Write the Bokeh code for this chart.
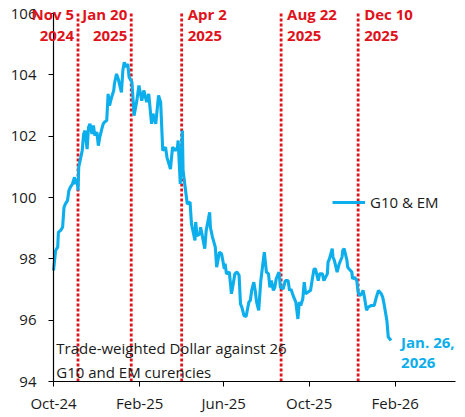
from datetime import datetime, timedelta
from bokeh.plotting import figure
from bokeh.models import (Range1d, FixedTicker, DatetimeTickFormatter, Span, Label,
                          Legend, LegendItem, ColumnDataSource)
from bokeh.embed import file_html
from bokeh.resources import INLINE

# ---------------- data ----------------
dates = [
    "2024-10-01", "2024-10-04", "2024-10-07", "2024-10-08", "2024-10-11", "2024-10-14",
    "2024-10-16", "2024-10-18", "2024-10-21", "2024-10-23", "2024-10-25", "2024-10-28",
    "2024-10-31", "2024-11-01", "2024-11-04", "2024-11-05", "2024-11-06", "2024-11-11",
    "2024-11-13", "2024-11-15", "2024-11-18", "2024-11-20", "2024-11-22", "2024-11-25",
    "2024-11-27", "2024-11-29", "2024-12-02", "2024-12-04", "2024-12-06", "2024-12-09",
    "2024-12-11", "2024-12-13", "2024-12-16", "2024-12-18", "2024-12-20", "2024-12-23",
    "2024-12-26", "2024-12-27", "2024-12-30", "2025-01-02", "2025-01-03", "2025-01-06",
    "2025-01-08", "2025-01-10", "2025-01-13", "2025-01-15", "2025-01-17", "2025-01-21",
    "2025-01-24", "2025-01-28", "2025-01-31", "2025-02-04", "2025-02-07", "2025-02-11",
    "2025-02-14", "2025-02-18", "2025-02-20", "2025-02-24", "2025-02-28", "2025-03-03",
    "2025-03-06", "2025-03-10", "2025-03-12", "2025-03-17", "2025-03-20", "2025-03-24",
    "2025-03-27", "2025-03-28", "2025-03-31", "2025-04-03", "2025-04-04", "2025-04-10",
    "2025-04-14", "2025-04-16", "2025-04-21", "2025-04-22", "2025-04-24", "2025-04-28",
    "2025-04-29", "2025-05-01", "2025-05-05", "2025-05-07", "2025-05-12", "2025-05-13",
    "2025-05-16", "2025-05-20", "2025-05-22", "2025-05-26", "2025-05-29", "2025-06-02",
    "2025-06-03", "2025-06-05", "2025-06-09", "2025-06-11", "2025-06-12", "2025-06-13",
    "2025-06-17", "2025-06-20", "2025-06-23", "2025-06-25", "2025-06-27", "2025-06-30",
    "2025-07-03", "2025-07-07", "2025-07-09", "2025-07-11", "2025-07-14", "2025-07-16",
    "2025-07-18", "2025-07-21", "2025-07-24", "2025-07-29", "2025-08-01", "2025-08-04",
    "2025-08-06", "2025-08-08", "2025-08-11", "2025-08-13", "2025-08-15", "2025-08-19",
    "2025-08-21", "2025-08-25", "2025-08-28", "2025-09-01", "2025-09-03", "2025-09-05",
    "2025-09-09", "2025-09-12", "2025-09-15", "2025-09-17", "2025-09-19", "2025-09-22",
    "2025-09-24", "2025-09-26", "2025-09-29", "2025-10-03", "2025-10-06", "2025-10-08",
    "2025-10-10", "2025-10-14", "2025-10-16", "2025-10-20", "2025-10-22", "2025-10-27",
    "2025-10-28", "2025-10-30", "2025-11-03", "2025-11-04", "2025-11-06", "2025-11-10",
    "2025-11-13", "2025-11-17", "2025-11-18", "2025-11-20", "2025-11-24", "2025-11-25",
    "2025-11-27", "2025-12-01", "2025-12-02", "2025-12-05", "2025-12-08", "2025-12-10",
    "2025-12-12", "2025-12-15", "2025-12-17", "2025-12-19", "2025-12-22", "2025-12-24",
    "2025-12-29", "2026-01-02", "2026-01-05", "2026-01-08", "2026-01-12", "2026-01-14",
    "2026-01-16", "2026-01-20", "2026-01-22", "2026-01-26",
]
g10_em = [
    97.62, 98.27, 98.38, 98.87, 98.92, 99.03,
    99.68, 99.79, 99.90, 100.23, 100.33, 100.44,
    100.66, 100.44, 100.60, 100.23, 100.99, 101.53,
    102.07, 102.18, 101.58, 102.29, 102.40, 102.07,
    102.35, 102.02, 102.13, 101.69, 101.96, 102.24,
    102.40, 102.46, 102.51, 103.38, 103.00, 103.27,
    103.49, 103.71, 104.03, 103.82, 103.71, 103.43,
    104.14, 104.41, 104.25, 104.36, 103.92, 103.76,
    102.67, 103.16, 103.65, 103.16, 103.49, 103.11,
    103.38, 102.40, 102.73, 102.40, 103.33, 103.11,
    101.53, 101.64, 101.31, 100.93, 101.64, 101.53,
    101.64, 101.86, 100.44, 102.18, 100.88, 99.79,
    99.85, 99.14, 98.60, 99.20, 98.76, 98.81,
    99.03, 98.81, 98.33, 98.92, 99.52, 99.03,
    98.71, 98.38, 97.73, 98.22, 98.16, 97.67,
    97.84, 97.51, 97.57, 97.13, 96.86, 96.97,
    97.51, 97.57, 97.46, 96.53, 96.42, 96.15,
    96.12, 96.59, 96.64, 96.97, 97.24, 96.97,
    96.59, 96.32, 97.29, 98.22, 97.57, 97.51,
    97.07, 97.29, 96.97, 97.07, 97.35, 97.57,
    97.07, 97.02, 97.29, 97.29, 96.97, 97.02,
    96.75, 96.59, 96.04, 96.59, 96.48, 96.70,
    97.24, 96.86, 96.91, 96.97, 97.40, 97.67,
    97.67, 97.29, 97.51, 97.51, 97.29, 97.51,
    97.89, 98.00, 98.33, 98.06, 97.95, 97.57,
    97.84, 98.06, 98.27, 98.33, 97.95, 97.73,
    97.67, 97.57, 97.35, 97.40, 97.29, 96.91,
    96.80, 96.86, 96.97, 96.75, 96.32, 96.42,
    96.48, 96.48, 96.75, 96.97, 96.86, 96.75,
    96.53, 95.99, 95.45, 95.34,
]
event_dates = ["2024-11-05", "2025-01-20", "2025-04-02", "2025-08-22", "2025-12-10"]
event_line1 = ["Nov 5", "Jan 20", "Apr 2", "Aug 22", "Dec 10"]
event_line2 = ["2024", "2025", "2025", "2025", "2025"]
event_side = ["left", "left", "right", "right", "right"]
x_tick_dates = ["2024-10-01", "2025-02-01", "2025-06-01", "2025-10-01", "2026-02-01"]
x_axis_start = "2024-10-01"
x_axis_end = "2026-04-28"
y_ticks = [94, 96, 98, 100, 102, 104, 106]
y_axis_min, y_axis_max = 94, 106
series_name = "G10 & EM"
note_line1 = "Trade-weighted Dollar against 26"
note_line2 = "G10 and EM curencies"
end_label1 = "Jan. 26,"
end_label2 = "2026"

# ---------------- styling / layout ----------------
FONT = "Open Sans"
BLUE = "#0DAEEC"
RED = "#E0121A"
TXT = "#1a1a1a"
W, H = 465, 417
AX_LEFT, AX_RIGHT = 53, 455      # pixel positions of the axis extent
AX_TOP, AX_BOTTOM = 13, 381

EPOCH = datetime(1970, 1, 1)

def d(s):
    return datetime.strptime(s, "%Y-%m-%d")

def ms(s):
    return (d(s) - EPOCH).total_seconds() * 1000.0

# the frame fills the whole figure; axes are pinned inside it
x0, x1 = ms(x_axis_start), ms(x_axis_end)
px_per_ms = (AX_RIGHT - AX_LEFT) / (x1 - x0)
xr = Range1d(x0 - AX_LEFT / px_per_ms, x1 + (W - AX_RIGHT) / px_per_ms)
px_per_unit = (AX_BOTTOM - AX_TOP) / (y_axis_max - y_axis_min)
yr = Range1d(y_axis_min - (H - AX_BOTTOM) / px_per_unit, y_axis_max + AX_TOP / px_per_unit)

src = ColumnDataSource(data=dict(x=[ms(s) for s in dates], y=g10_em))

p = figure(width=W, height=H, x_axis_type="datetime",
           output_backend="svg", toolbar_location=None,
           x_range=xr, y_range=yr,
           min_border_left=0, min_border_right=0, min_border_top=0, min_border_bottom=0)
p.outline_line_color = None
p.background_fill_color = "white"
p.border_fill_color = "white"
p.xgrid.visible = False
p.ygrid.visible = False

for ax in (p.xaxis[0], p.yaxis[0]):
    ax.axis_line_color = "black"
    ax.axis_line_width = 1.2
    ax.major_tick_line_color = "black"
    ax.major_tick_out = 5
    ax.major_tick_in = 0
    ax.minor_tick_line_color = None
    ax.major_label_text_font = FONT
    ax.major_label_text_font_size = "15px"
    ax.major_label_text_color = TXT

p.yaxis[0].ticker = FixedTicker(ticks=y_ticks)
p.yaxis[0].major_label_standoff = 12
p.yaxis[0].fixed_location = x0
p.yaxis[0].bounds = (y_axis_min, y_axis_max)
p.xaxis[0].ticker = FixedTicker(ticks=[ms(s) for s in x_tick_dates])
p.xaxis[0].formatter = DatetimeTickFormatter(months="%b-%y", days="%b-%y", years="%b-%y")
p.xaxis[0].major_label_standoff = 6
p.xaxis[0].fixed_location = y_axis_min
p.xaxis[0].bounds = (x0, x1)

# event lines (only over the axis extent)
for ed in event_dates:
    p.segment(x0=[ms(ed)], y0=[y_axis_min], x1=[ms(ed)], y1=[y_axis_max],
              line_color=RED, line_width=2.8, line_dash="3 2")

# series line
r = p.line("x", "y", source=src, line_color=BLUE, line_width=3.1)

# event labels
for ed, l1, l2, side in zip(event_dates, event_line1, event_line2, event_side):
    align = "right" if side == "left" else "left"
    off = -4 if side == "left" else 6
    for txt, yv in ((l1, 106.0), (l2, 105.28)):
        p.add_layout(Label(x=ms(ed), y=yv, text=txt, x_offset=off,
                           text_align=align, text_baseline="middle",
                           text_font=FONT, text_font_style="bold",
                           text_font_size="15px", text_color=RED))

# note
p.add_layout(Label(x=ms("2024-10-05"), y=95.1, text=note_line1, text_align="left",
                   text_baseline="middle", text_font=FONT, text_font_size="15px",
                   text_color=TXT))
p.add_layout(Label(x=ms("2024-10-05"), y=94.32, text=note_line2, text_align="left",
                   text_baseline="middle", text_font=FONT, text_font_size="15px",
                   text_color=TXT))

# end label
p.add_layout(Label(x=ms("2026-01-26"), y=95.3, text=end_label1, x_offset=10,
                   text_align="left", text_baseline="middle", text_font=FONT,
                   text_font_style="bold", text_font_size="15px", text_color=BLUE))
p.add_layout(Label(x=ms("2026-01-26"), y=94.6, text=end_label2, x_offset=10,
                   text_align="left", text_baseline="middle", text_font=FONT,
                   text_font_style="bold", text_font_size="15px", text_color=BLUE))

legend = Legend(items=[LegendItem(label=series_name, renderers=[r])],
                location=(332, 205), orientation="vertical",
                border_line_color=None, background_fill_alpha=0.0,
                glyph_width=33, glyph_height=14, label_text_font=FONT,
                label_text_font_size="15px", label_text_color=TXT,
                padding=0, margin=0, label_standoff=5)
p.add_layout(legend, "center")

open("out.html", "w").write(file_html(p, INLINE))
